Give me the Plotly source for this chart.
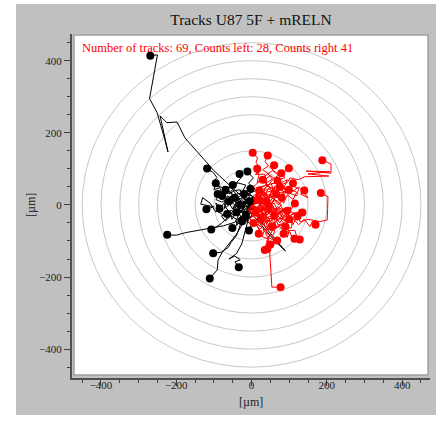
import plotly.graph_objects as go

# ---------------- data (µm) ----------------
title_text = "Tracks U87 5F + mRELN"
info_text = "Number of tracks: 69, Counts left: 28, Counts right 41"
axis_label = "[µm]"
circle_radii = [50, 100, 150, 200, 250, 300, 350, 400, 450]
tick_values = [-400, -200, 0, 200, 400]

# tracks ending left of origin (black)
black_tracks = [
    [(0,0),(8,-10),(-10,5),(-22,18),(-36,33),(-100,95),(-177,186),(-198,230),(-225,228),(-243,247),(-238,222),(-222,147),(-230,180),(-251,256),(-271,295),(-250,416),(-269,414)],
    [(0,0),(-15,10),(-30,5),(-48,22),(-60,40),(-85,52),(-105,60),(-92,76),(-102,90),(-118,101)],
    [(0,0),(-10,-15),(-25,-30),(-44,-48),(-75,-58),(-110,-65),(-145,-72),(-176,-77),(-200,-84),(-224,-83)],
    [(0,0),(12,-10),(-18,-12),(-30,-5),(-45,-22),(-62,-34),(-80,-51),(-92,-60),(-107,-68)],
    [(0,0),(-12,-20),(-25,-40),(-40,-85),(-55,-105),(-62,-118),(-80,-131),(-102,-134)],
    [(0,0),(-8,-25),(-23,-50),(-38,-78),(-52,-97),(-66,-115),(-79,-133),(-89,-153),(-91,-180),(-111,-204)],
    [(0,0),(5,-20),(-10,-45),(-18,-75),(-26,-108),(-40,-135),(-60,-150),(-45,-142),(-30,-152),(-44,-158),(-34,-173)],
    [(0,0),(-12,10),(-25,-5),(-15,-20),(-35,-18),(-28,-35),(-42,-42),(-38,-55),(-51,-64)],
    [(0,0),(-20,8),(-35,-10),(-50,5),(-70,10),(-82,-8),(-95,-20),(-110,5),(-130,20),(-135,2),(-125,0),(-100,-5),(-120,-12)],
    [(0,0),(-15,12),(-5,25),(-25,35),(-15,55),(-40,62),(-28,75),(-32,86)],
    [(0,0),(10,18),(-5,30),(8,45),(-8,60),(5,75),(-5,85),(-11,93)],
    [(0,0),(-15,-10),(-35,5),(-50,-12),(-65,15),(-80,8),(-95,15),(-75,35),(-90,30)],
    [(0,0),(-20,15),(-12,35),(-40,30),(-30,12),(-55,50),(-69,42)],
    [(0,0),(-10,-20),(-30,-15),(-45,10),(-60,0),(-72,-10),(-70,20),(-78,25)],
    [(0,0),(-15,10),(5,22),(-10,30),(-25,25),(8,38),(-3,45)],
    [(0,0),(20,-40),(55,-85),(90,-128),(62,-100),(30,-60),(5,-30),(-15,-42),(0,-55),(-7,-71)],
    [(0,0),(-18,-20),(-30,10),(-42,-8),(-55,-25),(-70,-5),(-65,25),(-50,18),(-60,10)],
    [(0,0),(-12,8),(-25,-12),(-18,-28),(-35,-10),(-48,-30),(-60,-15),(-52,-40),(-40,-20)],
    [(0,0),(8,12),(-10,15),(-25,5),(-35,20),(-15,40),(-5,28),(-20,30)],
    [(0,0),(-20,-5),(-35,-25),(-55,-15),(-70,-30),(-88,-20),(-95,5),(-80,-5),(-85,-10)],
    [(0,0),(15,10),(-10,-12),(-18,6),(-25,-8),(-40,5),(-50,-10),(-35,15),(-30,0)],
    [(0,0),(-8,18),(-25,22),(-30,42),(-45,40),(-60,30),(-38,60),(-50,55)],
    [(0,0),(10,-10),(-8,-15),(0,-25),(-20,-20),(-30,-40),(-10,-45),(-15,-30)],
    [(0,0),(-15,-25),(-30,-20),(-40,-40),(-55,-30),(-70,-45),(-80,-30),(-65,-25)],
    [(0,0),(-12,-5),(-25,15),(-38,5),(-55,25),(-65,10),(-45,20)],
    [(0,0),(-5,-18),(-20,-22),(-15,-38),(-32,-35),(-40,-55),(-25,-45)],
    [(0,0),(-20,20),(-40,15),(-55,35),(-75,28),(-85,48),(-100,42),(-95,60)],
    [(0,0),(12,-15),(-12,-6),(4,-4),(-8,8),(-18,15),(10,20),(-5,10)],
]

# tracks ending right of origin (red)
red_tracks = [
    [(0,0),(12,-8),(25,6),(18,22),(35,30),(22,45),(40,58),(28,70),(15,62),(20,85),(8,95),(18,108),(12,118),(16,130),(8,140),(3,145)],
    [(0,0),(-8,12),(15,18),(30,5),(45,20),(32,38),(50,48),(38,60),(55,72),(42,88),(30,98),(45,108),(36,120),(40,130),(43,137)],
    [(0,0),(18,-10),(30,12),(48,5),(60,28),(78,20),(90,40),(75,55),(95,62),(102,75),(125,70),(140,78),(205,80),(150,86),(208,92),(145,94),(211,88),(211,113),(198,120),(188,124)],
    [(0,0),(20,10),(35,-12),(55,-2),(70,-25),(88,-15),(102,-30),(120,-20),(129,-47),(150,-40),(182,-46),(201,-42),(202,-10),(203,23),(184,33)],
    [(0,0),(15,20),(32,8),(40,30),(60,22),(55,45),(75,50),(68,70),(88,75),(80,92),(92,95),(99,102)],
    [(0,0),(10,-15),(28,-5),(22,18),(45,12),(38,35),(60,40),(52,58),(70,62),(65,78),(79,88)],
    [(0,0),(20,12),(10,28),(30,35),(45,20),(55,42),(40,55),(58,60),(69,67)],
    [(0,0),(15,-12),(30,5),(45,-10),(60,12),(72,0),(85,20),(70,32),(90,38),(99,42)],
    [(0,0),(12,-18),(30,-8),(40,-28),(58,-15),(70,-30),(85,-10),(95,-25),(108,-8),(115,4)],
    [(0,0),(15,15),(32,5),(28,-15),(48,-5),(55,-25),(72,-12),(80,-30),(88,-10),(95,-16)],
    [(0,0),(20,-15),(38,0),(55,-22),(72,-8),(88,-35),(100,-15),(118,-30),(128,-12),(135,-21)],
    [(0,0),(18,-20),(35,-8),(52,-30),(70,-18),(88,-45),(105,-32),(125,-55),(140,-40),(155,-60),(162,-45),(170,-55)],
    [(0,0),(25,12),(42,-8),(60,5),(72,-22),(90,-10),(100,-35),(112,-20),(122,-32)],
    [(0,0),(15,-22),(35,-15),(42,-40),(60,-35),(65,-60),(85,-55),(90,-80),(102,-75),(108,-92),(114,-94)],
    [(0,0),(25,-12),(40,-35),(62,-28),(70,-55),(92,-50),(98,-72),(115,-70),(120,-88),(128,-96)],
    [(0,0),(10,-20),(28,-15),(30,-40),(50,-45),(42,-65),(62,-72),(55,-88),(68,-99)],
    [(0,0),(8,-25),(25,-35),(18,-55),(35,-68),(28,-88),(45,-95),(38,-110),(42,-122)],
    [(0,0),(18,-10),(8,-28),(25,-40),(12,-52),(28,-62),(15,-72),(19,-80)],
    [(0,0),(20,-15),(35,-35),(42,-60),(38,-80),(45,-95),(48,-130),(49,-152),(51,-203),(54,-228),(77,-228)],
    [(0,0),(15,-25),(35,-30),(45,-55),(30,-70),(48,-85),(40,-100),(45,-112),(35,-125)],
    [(0,0),(-5,-20),(12,-38),(30,-42),(38,-65),(55,-72),(45,-90),(58,-98),(50,-110)],
    [(0,0),(15,-10),(28,8),(45,-5),(60,15),(48,30),(62,45),(40,52),(30,35),(12,20),(30,28),(15,35),(20,40)],
    [(0,0),(20,25),(35,5),(50,22),(70,10),(85,-15),(65,-30),(55,0),(40,-12),(30,15),(40,10)],
    [(0,0),(25,-15),(35,10),(50,-20),(70,-5),(90,-20),(105,-5),(92,-45),(75,-35),(60,-50),(50,-38),(60,-30)],
    [(0,0),(18,5),(30,-10),(45,8),(58,-12),(40,-28),(20,-25),(5,-12),(10,-20)],
    [(0,0),(10,25),(35,35),(20,50),(45,55),(60,75),(75,60),(50,82),(25,62),(30,70)],
    [(0,0),(30,10),(45,-10),(65,25),(85,5),(95,28),(110,15),(120,35),(100,45),(80,20)],
    [(0,0),(15,-30),(40,-25),(30,-48),(50,-45),(70,-30),(85,-50),(65,-65),(55,-60)],
    [(0,0),(20,-10),(10,-30),(32,-25),(48,-40),(30,-55),(20,-48),(25,-40)],
    [(0,0),(30,-25),(55,-15),(70,-45),(80,-30),(95,-50),(110,-40),(105,-65),(90,-60)],
    [(0,0),(20,20),(5,50),(25,70),(40,60),(35,85),(10,85),(22,92),(15,100)],
    [(0,0),(20,35),(45,15),(55,40),(75,25),(90,40),(80,60),(60,50),(65,30)],
    [(0,0),(15,15),(30,-15),(50,5),(65,-15),(80,0),(60,15),(45,-10)],
    [(0,0),(25,-35),(50,-10),(75,-50),(90,-25),(110,-55),(120,-30),(100,-40)],
    [(0,0),(30,20),(45,45),(60,35),(80,62),(95,70),(85,45),(75,50)],
    [(0,0),(-10,-15),(12,-25),(-5,-38),(15,-60),(25,-75),(8,-45),(5,-50)],
    [(0,0),(30,30),(55,20),(80,50),(95,35),(120,25),(125,45),(105,55),(110,60)],
    [(0,0),(20,-40),(45,-35),(60,-65),(75,-60),(95,-90),(100,-70),(85,-80)],
    [(0,0),(-10,15),(12,8),(5,25),(25,40),(35,20),(20,15)],
    [(0,0),(20,35),(40,50),(35,80),(55,95),(70,85),(48,105),(60,110)],
    [(0,0),(40,15),(70,45),(100,30),(125,50),(150,20),(130,30),(140,40)],
]

# ---------------- figure ----------------
FONT = "Liberation Serif"
W, H = 443, 421
L, R, T, B = 72, 13, 34, 43


def flatten(tracks):
    xs, ys = [], []
    for tr in tracks:
        for px, py in tr:
            xs.append(px)
            ys.append(py)
        xs.append(None)
        ys.append(None)
    return xs, ys


fig = go.Figure()

for tracks, col in ((black_tracks, "black"), (red_tracks, "red")):
    xs, ys = flatten(tracks)
    fig.add_trace(go.Scatter(x=xs, y=ys, mode="lines",
                             line=dict(color=col, width=1),
                             hoverinfo="skip", showlegend=False))

for tracks, col in ((black_tracks, "black"), (red_tracks, "red")):
    fig.add_trace(go.Scatter(x=[t[-1][0] for t in tracks], y=[t[-1][1] for t in tracks],
                             mode="markers", marker=dict(color=col, size=8),
                             showlegend=False))

pw = W - L - R
ph = H - T - B


def px2fx(p):
    return (p - L) / pw


def py2fy(p):
    return (H - B - p) / ph


shapes = []
# white page margins around the grey panel
for x0, x1, y0, y1 in ((-5, 16, -5, H + 5), (436, W + 5, -5, H + 5),
                       (-5, W + 5, -5, 4), (-5, W + 5, 415, H + 5)):
    shapes.append(dict(type="rect", xref="paper", yref="paper", layer="below",
                       x0=px2fx(x0), x1=px2fx(x1), y0=py2fy(y1), y1=py2fy(y0),
                       fillcolor="white", line=dict(width=0)))
# white plotting frame
shapes.append(dict(type="rect", xref="paper", yref="paper", layer="below",
                   x0=px2fx(74), x1=px2fx(428), y0=py2fy(375), y1=py2fy(35),
                   fillcolor="white", line=dict(color="#a0a0a0", width=1.5)))
for r in circle_radii:
    shapes.append(dict(type="circle", xref="x", yref="y", layer="below",
                       x0=-r, x1=r, y0=-r, y1=r,
                       line=dict(color="#c8c8c8", width=1)))

annotations = [
    dict(text=info_text, xref="paper", yref="paper", x=px2fx(80), y=py2fy(48),
         xanchor="left", yanchor="middle", showarrow=False,
         font=dict(family=FONT, size=12.5, color="red")),
    dict(text=axis_label, xref="paper", yref="paper", x=px2fx(251), y=py2fy(402),
         xanchor="center", yanchor="middle", showarrow=False,
         font=dict(family=FONT, size=12, color="#222")),
    dict(text=axis_label, xref="paper", yref="paper", x=px2fx(31), y=py2fy(205),
         xanchor="center", yanchor="middle", showarrow=False, textangle=-90,
         font=dict(family=FONT, size=12, color="#222")),
]

axis_common = dict(showgrid=False, zeroline=False, showline=True, linecolor="#505050",
                   linewidth=2, ticks="outside", ticklen=6, tickcolor="#404040",
                   tickvals=tick_values,
                   tickfont=dict(family=FONT, size=11, color="#222"),
                   minor=dict(dtick=50, tick0=0, ticks="outside", ticklen=3,
                              tickcolor="#404040", showgrid=False))

fig.update_layout(
    width=W, height=H,
    margin=dict(l=L, r=R, t=T, b=B),
    paper_bgcolor="#c0c0c0",
    plot_bgcolor="#c0c0c0",
    title=dict(text=title_text, x=0.5, xref="paper", y=1 - 20 / H, yref="container",
               xanchor="center", yanchor="middle",
               font=dict(family=FONT, size=15.5, color="#111")),
    xaxis=dict(range=[-477, 474], ticklabelstandoff=-10, **axis_common),
    yaxis=dict(range=[-480, 474], **axis_common),
    shapes=shapes,
    annotations=annotations,
)

fig.write_html("out.html", config={"displayModeBar": False},
               post_script="document.body.style.margin='0px';")
